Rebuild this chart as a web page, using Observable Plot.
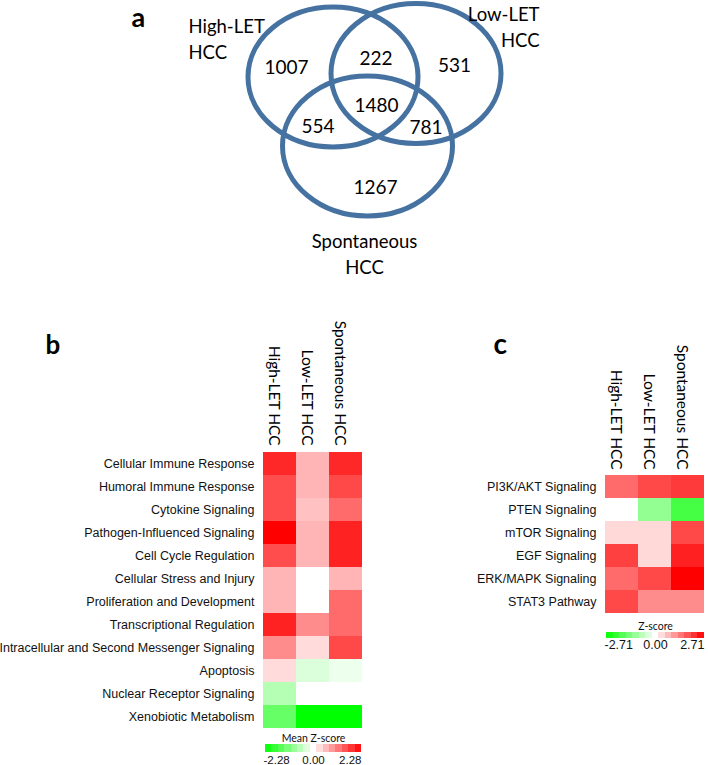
<!DOCTYPE html>
<html><head><meta charset="utf-8">
<script src="https://cdn.jsdelivr.net/npm/d3@7"></script>
<script src="https://cdn.jsdelivr.net/npm/@observablehq/plot@0.6"></script>
<style>
html,body{margin:0;padding:0;background:#fff;}
#root{position:relative;width:708px;height:765px;overflow:hidden;background:#fff;}
#root svg{position:absolute;max-width:none;overflow:visible;}
</style></head><body><div id="root"></div>
<script>
// ================= DATA =================
// Panel a: Venn diagram of differentially expressed genes
const vennSets = ["High-LET HCC", "Low-LET HCC", "Spontaneous HCC"];
const vennRegions = ["High-LET only", "High-LET & Low-LET", "Low-LET only", "All three",
                     "High-LET & Spontaneous", "Low-LET & Spontaneous", "Spontaneous only"];
const vennCounts = [1007, 222, 531, 1480, 554, 781, 1267];

// Heatmap columns (shared by panels b and c)
const columns = ["High-LET HCC", "Low-LET HCC", "Spontaneous HCC"];

// Panel b: mean Z-score per functional category
const categoriesB = [
  "Cellular Immune Response", "Humoral Immune Response", "Cytokine Signaling",
  "Pathogen-Influenced Signaling", "Cell Cycle Regulation", "Cellular Stress and Injury",
  "Proliferation and Development", "Transcriptional Regulation",
  "Intracellular and Second Messenger Signaling", "Apoptosis",
  "Nuclear Receptor Signaling", "Xenobiotic Metabolism"
];
const highB  = [1.92, 1.60, 1.60, 2.28, 1.60, 0.66, 0.66, 1.98, 1.03, 0.32, -0.66, -1.37];
const lowB   = [0.66, 0.66, 0.55, 0.66, 0.66, 0.00, 0.00, 1.03, 0.32, -0.32, null, -2.28];
const spontB = [1.92, 1.64, 1.32, 1.98, 1.98, 0.66, 1.32, 1.32, 1.64, -0.16, null, -2.28];
const rangeB = 2.28;
const legendTitleB = "Mean Z-score";

// Panel c: Z-score per pathway
const categoriesC = ["PI3K/AKT Signaling", "PTEN Signaling", "mTOR Signaling",
                     "EGF Signaling", "ERK/MAPK Signaling", "STAT3 Pathway"];
const highC  = [1.57, 0.00, 0.41, 2.03, 1.57, 1.95];
const lowC   = [1.95, -1.15, 0.41, 0.41, 1.95, 1.22];
const spontC = [2.09, -1.98, 1.95, 2.36, 2.71, 1.22];
const rangeC = 2.71;
const legendTitleC = "Z-score";

// ================= LAYOUT (page pixels) =================
const W = 708, H = 765;
const ringColor = "#4572a0";
const vennCircleCenters = [[332.5, 76.5], [415.5, 73], [367, 145.5]];
const vennRy = 70, vennAspect = 85 / 70;
const vennCountPos = [[286, 67], [375.5, 58.5], [454, 65], [376, 105.5], [317.5, 126], [425.5, 127.5], [375, 187]];
const vennLabelPos = [[188, 15, "start"], [539, 3, "end"], [364, 230, "middle"]];
const panelLetters = ["a", "b", "c"];
const panelLetterPos = [[131, 26, 27], [45, 353, 26], [493, 353, 28]];

const root = document.getElementById("root");
function place(svg, left, top) {
  svg.style.left = left + "px"; svg.style.top = top + "px";
  root.appendChild(svg);
}

// ellipse symbol for Plot.dot
const ellipse = {
  draw(ctx, size) {
    const ry = Math.sqrt(size / Math.PI), rx = ry * vennAspect, k = 0.5523;
    ctx.moveTo(rx, 0);
    ctx.bezierCurveTo(rx, ry * k, rx * k, ry, 0, ry);
    ctx.bezierCurveTo(-rx * k, ry, -rx, ry * k, -rx, 0);
    ctx.bezierCurveTo(-rx, -ry * k, -rx * k, -ry, 0, -ry);
    ctx.bezierCurveTo(rx * k, -ry, rx, -ry * k, rx, 0);
    ctx.closePath();
  }
};

// ---- page overlay: Venn + panel letters ----
const setIdx = vennSets.map((d, i) => i);
const regIdx = vennRegions.map((d, i) => i);
const pagePlot = Plot.plot({
  width: W, height: H, margin: 0,
  x: {domain: [0, W], range: [0, W], axis: null},
  y: {domain: [0, H], range: [0, H], axis: null},
  style: {background: "transparent", fontFamily: "Lato", color: "#000"},
  marks: [
    Plot.dot(setIdx, {x: i => vennCircleCenters[i][0], y: i => vennCircleCenters[i][1],
      r: vennRy, symbol: ellipse, fill: "none", stroke: ringColor, strokeWidth: 5}),
    Plot.text(regIdx, {x: i => vennCountPos[i][0], y: i => vennCountPos[i][1],
      text: i => String(vennCounts[i]), fontSize: 19, fill: "#000"}),
    ...setIdx.map(i => Plot.text([vennSets[i]], {x: () => vennLabelPos[i][0], y: () => vennLabelPos[i][1],
      text: d => d.replace(" ", "\n"), textAnchor: vennLabelPos[i][2], lineAnchor: "top",
      lineHeight: 1.36, fontSize: 18.5, fill: "#000"})),
    ...panelLetters.map((l, i) => Plot.text([l], {x: () => panelLetterPos[i][0], y: () => panelLetterPos[i][1],
      text: d => d, textAnchor: "start", lineAnchor: "bottom", fontSize: panelLetterPos[i][2],
      fontWeight: "bold", fill: "#000"}))
  ]
});
place(pagePlot, 0, 0);

// ---- heatmaps ----
function cellsOf(cats, a, b, c) {
  const cols = [a, b, c];
  return cats.flatMap((r, i) => columns.map((col, j) => ({row: r, col, value: cols[j][i]})));
}
const colorOf = (m) => ({type: "linear", domain: [-m, 0, m], range: ["#00ff00", "#ffffff", "#ff0000"], interpolate: "rgb"});

function heatmap(cats, data, m, opts) {
  return Plot.plot({
    width: opts.width, height: opts.height,
    marginLeft: opts.ml, marginRight: opts.mr, marginTop: opts.mt, marginBottom: opts.mb,
    x: {domain: columns, padding: 0, axis: null},
    y: {domain: cats, padding: 0},
    color: colorOf(m),
    style: {background: "transparent", fontFamily: "Liberation Sans, Arial, sans-serif", fontSize: "12.5px", color: "#111"},
    marks: [
      Plot.cell(data, {x: "col", y: "row", fill: "value", inset: 0, shapeRendering: "crispEdges"}),
      Plot.axisY({tickSize: 0, tickPadding: 9, label: null, fontSize: 12.5}),
      Plot.text(columns, {x: d => d, frameAnchor: "top", rotate: 90, textAnchor: "end", dy: opts.hdy,
        fontFamily: "Lato", fontSize: 15.5, fill: "#000"})
    ]
  });
}
place(heatmap(categoriesB, cellsOf(categoriesB, highB, lowB, spontB), rangeB,
  {width: 380, height: 475, ml: 263, mr: 18, mt: 161, mb: 36, hdy: -6}), 0, 290);
place(heatmap(categoriesC, cellsOf(categoriesC, highC, lowC, spontC), rangeC,
  {width: 268, height: 475, ml: 165, mr: 4, mt: 182, mb: 150, hdy: -3}), 440, 290);

// ---- legends (discrete colour ramps) ----
function legend(m, title, o) {
  const n = 15, step = 2 * m / n;
  const sw = d3.range(n).map(i => ({x1: -m + i * step, x2: -m + (i + 1) * step, v: -m + (i + 0.5) * step}));
  const ticks = [-m, 0, m];
  const fmt = d => d.toFixed(2);
  return Plot.plot({
    width: o.width, height: o.height,
    marginLeft: o.ml, marginRight: o.mr, marginTop: o.mt, marginBottom: o.mb,
    x: {domain: [-m, m], axis: null},
    color: colorOf(m),
    style: {background: "transparent", fontFamily: "Liberation Sans, Arial, sans-serif", color: "#111"},
    marks: [
      Plot.barX(sw, {x1: "x1", x2: "x2", fill: "v", shapeRendering: "crispEdges"}),
      Plot.text([ticks[0]], {x: d => d, text: fmt, frameAnchor: "bottom", textAnchor: "start", lineAnchor: "bottom", dx: -2, dy: o.tdy, fontSize: o.fs, fill: "#111"}),
      Plot.text([ticks[1]], {x: d => d, text: fmt, frameAnchor: "bottom", textAnchor: "middle", lineAnchor: "bottom", dy: o.tdy, fontSize: o.fs, fill: "#111"}),
      Plot.text([ticks[2]], {x: d => d, text: fmt, frameAnchor: "bottom", textAnchor: "end", lineAnchor: "bottom", dy: o.tdy, fontSize: o.fs, fill: "#111"}),
      Plot.text([title], {text: d => d, frameAnchor: "top", lineAnchor: "bottom", dy: -3, fontFamily: "Lato", fontSize: 10.5, fill: "#111"})
    ]
  });
}
place(legend(rangeB, legendTitleB, {width: 150, height: 40, ml: 25, mr: 29, mt: 19, mb: 13, tdy: 11, fs: 11.5}), 240, 725);
place(legend(rangeC, legendTitleC, {width: 128, height: 40, ml: 26, mr: 4, mt: 20, mb: 14, tdy: 10.5, fs: 12.5}), 580, 612);
</script></body></html>
